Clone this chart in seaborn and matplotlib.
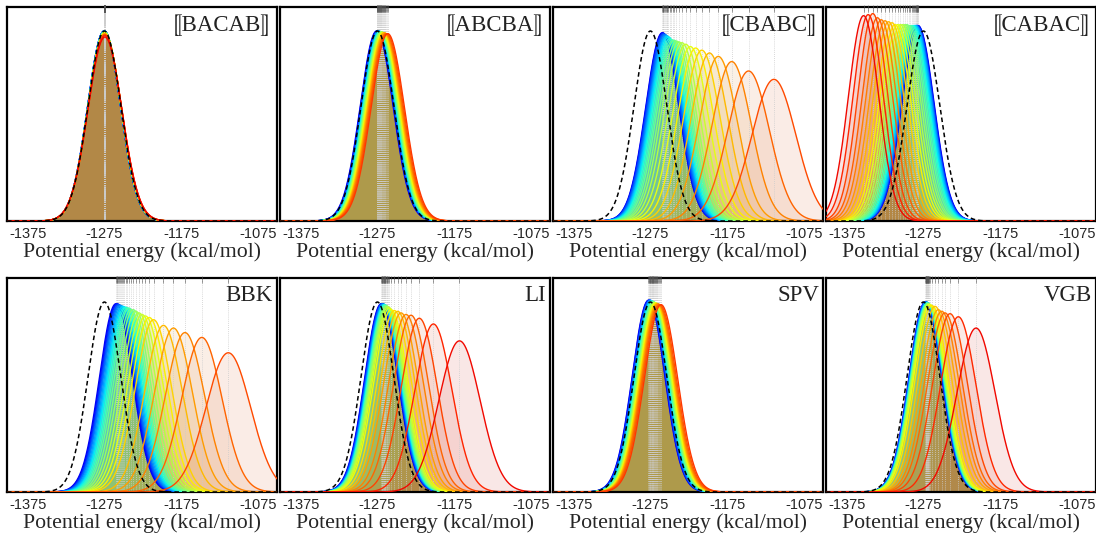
import numpy as np
import pandas as pd
import matplotlib
matplotlib.use("Agg")
import matplotlib.pyplot as plt
import seaborn as sns

# ---------------- data ----------------
X_MIN, X_MAX = -1402, -1050
TICKS = [-1375, -1275, -1175, -1075]
TICK_LABELS = ["-1375", "-1275", "-1175", "-1075"]
XLABEL = "Potential energy (kcal/mol)"
REF_MEAN = -1275.0
REF_SD = 21.4

panel_labels = ["\u27e6BACAB\u27e7", "\u27e6ABCBA\u27e7", "\u27e6CBABC\u27e7", "\u27e6CABAC\u27e7",
                "BBK", "LI", "SPV", "VGB"]

bacab_means = [-1275.5, -1275.4, -1275.3, -1275.3, -1275.2, -1275.2, -1275.1, -1275.1, -1275.0,
               -1275.0, -1275.0, -1274.9, -1274.9, -1274.9, -1274.8, -1274.8, -1274.8, -1274.7,
               -1274.7, -1274.7, -1274.6, -1274.6, -1274.5, -1274.5, -1274.4, -1274.4]
bacab_sds = [21.4, 21.4, 21.4, 21.4, 21.4, 21.4, 21.4, 21.4, 21.5, 21.5, 21.5, 21.5, 21.5,
             21.5, 21.6, 21.6, 21.6, 21.6, 21.7, 21.7, 21.7, 21.8, 21.8, 21.9, 21.9, 22.1]

abcba_means = [-1276.0, -1275.5, -1275.0, -1274.5, -1274.0, -1273.6, -1273.2, -1272.8, -1272.4,
               -1272.0, -1271.6, -1271.2, -1270.8, -1270.3, -1269.8, -1269.3, -1268.8, -1268.2,
               -1267.6, -1267.0, -1266.3, -1265.6, -1264.8, -1263.9, -1262.8, -1261.5]
abcba_sds = [21.4, 21.4, 21.4, 21.4, 21.4, 21.4, 21.4, 21.4, 21.5, 21.5, 21.5, 21.5, 21.5,
             21.5, 21.5, 21.5, 21.6, 21.6, 21.6, 21.6, 21.6, 21.6, 21.7, 21.7, 21.7, 21.7]

cbabc_means = [-1259.5, -1259.0, -1258.5, -1258.0, -1257.0, -1256.0, -1255.0, -1254.0, -1253.0,
               -1251.5, -1250.0, -1248.0, -1246.0, -1244.0, -1241.0, -1238.0, -1234.0, -1229.0,
               -1223.0, -1216.0, -1208.0, -1198.0, -1186.5, -1169.0, -1147.0, -1114.0]
cbabc_sds = [21.6, 21.6, 21.7, 21.7, 21.8, 21.8, 21.9, 22.0, 22.0, 22.1, 22.3, 22.4, 22.5,
             22.5, 22.6, 22.7, 22.8, 23.0, 23.3, 23.5, 23.8, 24.2, 24.7, 25.5, 27.1, 28.7]

cabac_means = [-1282.0, -1282.5, -1283.0, -1283.5, -1284.0, -1284.5, -1285.0, -1286.0, -1287.0,
               -1288.5, -1290.0, -1292.0, -1294.0, -1296.5, -1299.0, -1302.0, -1305.0, -1308.5,
               -1312.0, -1316.0, -1320.5, -1325.0, -1330.0, -1335.0, -1341.0, -1347.0, -1353.0]
cabac_sds = [20.8, 20.8, 20.8, 20.8, 20.8, 20.8, 20.8, 20.8, 20.8, 20.8, 20.8, 20.8, 20.8,
             20.7, 20.7, 20.7, 20.7, 20.7, 20.7, 20.5, 20.4, 20.3, 20.2, 20.0, 19.6, 19.7, 19.8]

bbk_means = [-1260.0, -1259.0, -1258.0, -1257.0, -1256.0, -1255.0, -1253.5, -1252.0, -1250.5,
             -1249.0, -1247.0, -1245.0, -1243.0, -1240.5, -1237.5, -1234.0, -1230.0, -1226.0,
             -1221.5, -1216.5, -1211.0, -1198.0, -1185.0, -1170.0, -1148.0, -1113.5]
bbk_sds = [21.6, 21.6, 21.6, 21.7, 21.7, 21.8, 21.8, 21.9, 21.9, 22.0, 22.0, 22.1, 22.1,
           22.3, 22.3, 22.5, 22.7, 22.9, 23.1, 23.3, 23.6, 24.4, 24.8, 25.5, 26.3, 29.2]

li_means = [-1270.0, -1269.5, -1269.0, -1268.5, -1268.0, -1267.5, -1267.0, -1266.5, -1266.0,
            -1265.5, -1265.0, -1264.5, -1264.0, -1263.0, -1262.0, -1261.0, -1259.5, -1257.3,
            -1253.0, -1248.6, -1244.2, -1237.7, -1231.2, -1220.4, -1202.0, -1168.0]
li_sds = [21.6, 21.6, 21.6, 21.6, 21.6, 21.6, 21.7, 21.7, 21.7, 21.7, 21.8, 21.8, 21.8,
          21.9, 21.9, 22.0, 22.1, 22.3, 22.4, 22.5, 22.7, 22.9, 23.0, 23.4, 24.2, 26.9]

spv_means = [-1277.5, -1277.0, -1276.5, -1276.0, -1275.5, -1275.0, -1274.5, -1274.0, -1273.5,
             -1273.0, -1272.5, -1272.0, -1271.5, -1271.0, -1270.4, -1269.8, -1269.2, -1268.6,
             -1268.0, -1267.3, -1266.6, -1265.8, -1265.0, -1264.1, -1262.8, -1261.2]
spv_sds = [21.2, 21.2, 21.2, 21.2, 21.2, 21.2, 21.3, 21.3, 21.3, 21.3, 21.3, 21.4, 21.4,
           21.4, 21.4, 21.5, 21.5, 21.5, 21.5, 21.6, 21.6, 21.6, 21.6, 21.7, 21.7, 21.7]

vgb_means = [-1272.5, -1272.2, -1271.9, -1271.6, -1271.3, -1271.0, -1270.7, -1270.4, -1270.1,
             -1269.8, -1269.5, -1269.2, -1268.9, -1268.5, -1268.0, -1267.3, -1266.3, -1264.0,
             -1259.9, -1255.6, -1251.2, -1246.9, -1240.3, -1229.5, -1206.4]
vgb_sds = [21.4, 21.4, 21.4, 21.4, 21.4, 21.4, 21.5, 21.5, 21.5, 21.5, 21.5, 21.6, 21.6,
           21.6, 21.6, 21.7, 21.7, 21.8, 21.9, 22.3, 22.5, 22.7, 22.8, 23.2, 24.8]

panel_means = [bacab_means, abcba_means, cbabc_means, cabac_means,
               bbk_means, li_means, spv_means, vgb_means]
panel_sds = [bacab_sds, abcba_sds, cbabc_sds, cabac_sds,
             bbk_sds, li_sds, spv_sds, vgb_sds]

# ---------------- style ----------------
cmap_end = [0.90, 0.85, 0.83, 0.90, 0.83, 0.90, 0.85, 0.90]
CMAP_START = 0.10
Y_TOP = 0.0210
FILL_ALPHA = 0.11
FILL_GRAY_MIX = 0.28
FILL_GRAY = 0.45

sns.set_style("white")
plt.rcParams["font.family"] = ["Liberation Sans", "DejaVu Sans"]
SERIF = ["Liberation Serif", "STIXGeneral", "DejaVu Serif"]

W, H = 1096, 537
fig = plt.figure(figsize=(W / 100, H / 100), dpi=100)
lefts = [7, 280, 553, 826]
tops = [7, 278]
pw, ph = 270, 214

xg = np.linspace(X_MIN, X_MAX, 900)
jet = plt.get_cmap("jet")


def gauss(x, m, s):
    return np.exp(-0.5 * ((x - m) / s) ** 2) / (s * np.sqrt(2 * np.pi))


for k in range(8):
    r, c = divmod(k, 4)
    ax = fig.add_axes([lefts[c] / W, 1 - (tops[r] + ph) / H, pw / W, ph / H])
    means = panel_means[k]
    sds = panel_sds[k]
    n = len(means)
    cols = [jet(CMAP_START + (cmap_end[k] - CMAP_START) * i / (n - 1)) for i in range(n)]
    fill_cols = [tuple((1 - FILL_GRAY_MIX) * np.array(cc[:3]) + FILL_GRAY_MIX * FILL_GRAY)
                 for cc in cols]

    rows = []
    for i, (m, s) in enumerate(zip(means, sds)):
        y = gauss(xg, m, s)
        rows.append(pd.DataFrame({"x": xg, "y": y, "curve": i}))
        ax.fill_between(xg, 0, y, color=fill_cols[i], alpha=FILL_ALPHA, lw=0, zorder=1)
    df = pd.concat(rows, ignore_index=True)

    # dotted guide lines at each peak
    for m in means:
        ax.axvline(m, color="#cccccc", lw=0.6, ls=(0, (1, 1.5)), zorder=2)
    ax.vlines(means, 0.975, 1.01, transform=ax.get_xaxis_transform(),
              color="#555555", lw=0.4, clip_on=False, zorder=6)

    sns.lineplot(data=df, x="x", y="y", hue="curve", palette=cols, lw=1.0,
                 legend=False, estimator=None, sort=False, ax=ax, zorder=3)

    ref = pd.DataFrame({"x": xg, "y": gauss(xg, REF_MEAN, REF_SD)})
    ax.plot(ref["x"], ref["y"], color="black", lw=1.1, ls=(0, (3, 2)), zorder=4)

    ax.set_xlim(X_MIN, X_MAX)
    ax.set_ylim(0, Y_TOP)
    ax.set_yticks([])
    ax.set_xticks(TICKS)
    ax.set_xticklabels(TICK_LABELS, fontsize=10.5, family=["Liberation Sans", "DejaVu Sans"])
    ax.tick_params(axis="x", length=0, pad=4)
    ax.set_xlabel(XLABEL, fontsize=15.7, family=SERIF, labelpad=1)
    ax.set_ylabel("")
    for sp in ax.spines.values():
        sp.set_visible(True)
        sp.set_color("black")
        sp.set_linewidth(1.6)
    ax.text(0.985, 0.965, panel_labels[k], transform=ax.transAxes, ha="right", va="top",
            fontsize=16.5, color="#222222", family=SERIF, zorder=7)

fig.savefig("out.png", dpi=100)
